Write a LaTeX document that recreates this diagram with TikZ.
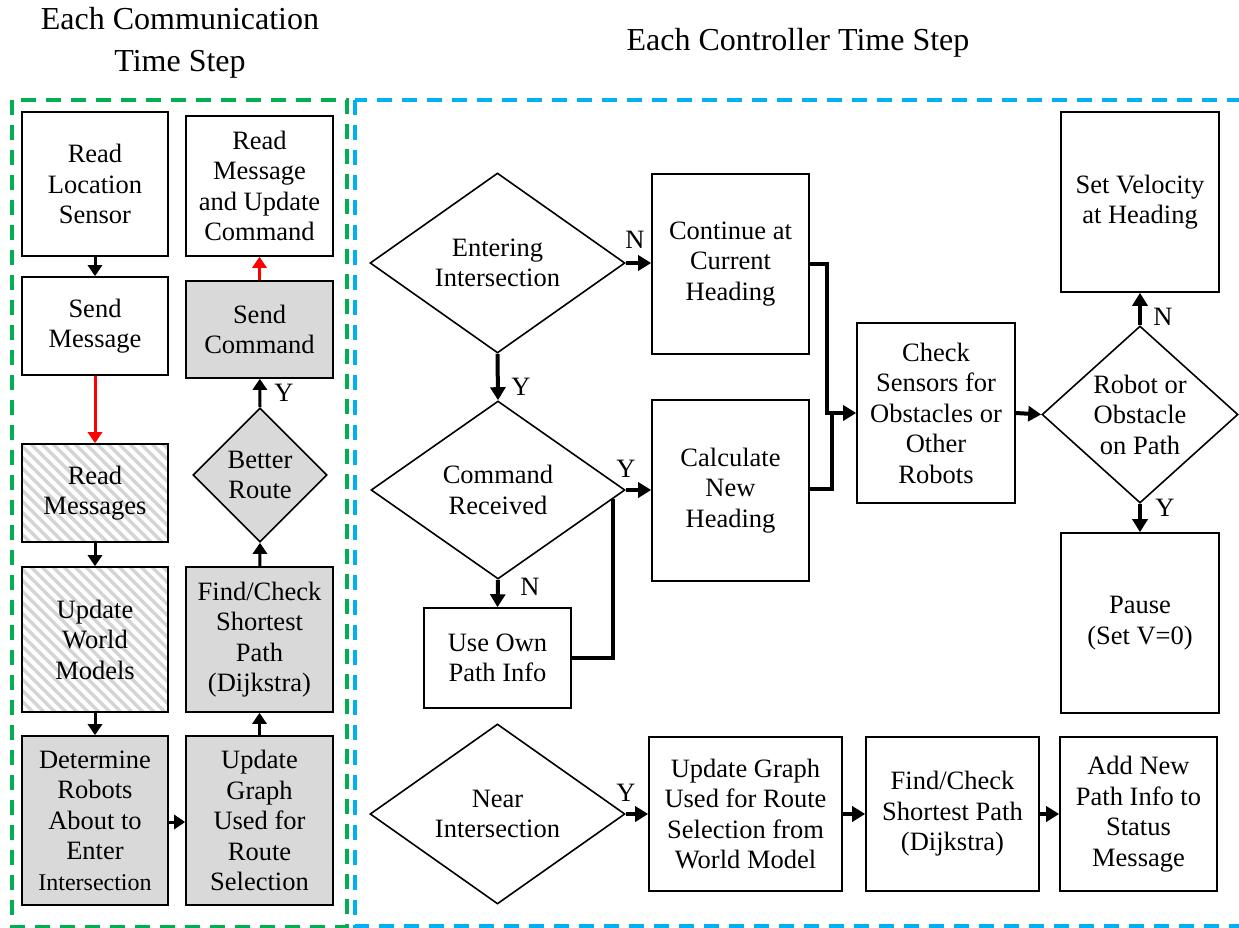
\documentclass[tikz,border=0pt]{standalone}
\usepackage{fontspec}
\setmainfont{LiberationSerif}[Extension=.ttf, UprightFont=*-Regular, BoldFont=*-Bold, ItalicFont=*-Italic, BoldItalicFont=*-BoldItalic]
\usetikzlibrary{shapes.geometric,arrows.meta,calc}

\definecolor{commgreen}{HTML}{00B050}
\definecolor{ctrlblue}{HTML}{00B0F0}
\definecolor{boxgray}{HTML}{D9D9D9}
\definecolor{hatchgray}{HTML}{D4D4D4}

\tikzset{
  txt/.style={font=\rmfamily\fontsize{26.5}{30.5}\selectfont},
  title/.style={font=\rmfamily\fontsize{32}{42}\selectfont, align=center},
  box/.style={txt, draw, line width=1.6pt, align=center, inner sep=0pt},
  shaded/.style={fill=boxgray},
  hatched/.style={path picture={
      \foreach \i in {-200,-189,...,170}
        \draw[hatchgray, line width=3.4pt]
          ($(path picture bounding box.north west)+(\i,0)$) -- ++(200,200);}},
  decision/.style={txt, draw, line width=1.6pt, shape=diamond, align=center, inner sep=0pt},
  larrow/.style={line width=3pt, -{Triangle[length=11pt,width=14pt]}},
  redarrow/.style={larrow, red},
  rarrow/.style={line width=4pt, -{Triangle[length=13pt,width=15pt]}},
  rline/.style={line width=4pt},
  yn/.style={txt, inner sep=0pt},
  frame/.style={line width=4pt, dash pattern=on 15pt off 10pt},
}

\begin{document}
\begin{tikzpicture}[x=1pt, y=-1pt]
\useasboundingbox (0,0) rectangle (1239,928);
\clip (0,0) rectangle (1239,928);

% group frames
\draw[frame, commgreen] (12,100) rectangle (347,927);
\draw[frame, ctrlblue] (355,100) rectangle (1260,926);

% headings
\node[title] (thcomm) at (180,43) {Each Communication\\Time Step};
\node[title] (thctrl) at (798,43) {Each Controller Time Step};

% ---- communication step ----
\node[box, minimum width=146pt, minimum height=144pt] (rls) at (95,184) {Read\\Location\\Sensor};
\node[box, minimum width=146pt, minimum height=98pt] (sm) at (95,326) {Send\\Message};
\node[box, hatched, minimum width=146pt, minimum height=98pt] (rm) at (95,493) {Read\\Messages};
\node[box, hatched, minimum width=146pt, minimum height=145pt] (uwm) at (95,639.5) {Update\\World\\Models};
\node[box, shaded, minimum width=146pt, minimum height=169pt] (drb) at (95,820.5)
  {Determine\\Robots\\About to\\Enter\\{\fontsize{24}{30.5}\selectfont Intersection}};

\node[box, minimum width=147pt, minimum height=140pt] (rmu) at (259.5,186) {Read\\Message\\and Update\\Command};
\node[box, shaded, minimum width=147pt, minimum height=97pt] (sc) at (259.5,329.5) {Send\\Command};
\node[decision, shaded, minimum width=134pt, minimum height=134pt] (br) at (260,475) {Better\\Route};
\node[box, shaded, minimum width=147pt, minimum height=145pt] (fc) at (259.5,639.5) {Find/Check\\Shortest\\Path\\(Dijkstra)};
\node[box, shaded, minimum width=147pt, minimum height=169pt] (ug) at (259.5,820.5) {Update\\Graph\\Used for\\Route\\Selection};

\draw[larrow] (rls) -- (sm);
\draw[redarrow] (sm) -- (rm);
\draw[larrow] (rm) -- (uwm);
\draw[larrow] (uwm) -- (drb);
\draw[larrow] (drb.east |- 0,822) -- (ug.west |- 0,822);
\draw[larrow] (ug) -- (fc);
\draw[larrow] (fc) -- (br.south);
\draw[larrow] (br.north) -- (sc);
\draw[redarrow] (sc) -- (rmu);
\node[yn] (ybr) at (284,393) {Y};

% ---- controller step ----
\node[decision, minimum width=255pt, minimum height=180pt, aspect=1.42] (ent) at (497.5,263) {Entering\\Intersection};
\node[box, minimum width=157pt, minimum height=180pt] (cont) at (730.5,264) {Continue at\\Current\\Heading};
\node[decision, minimum width=254pt, minimum height=178pt, aspect=1.42] (cmd) at (498,490) {Command\\Received};
\node[box, minimum width=157pt, minimum height=181pt] (calc) at (730.5,490.5) {Calculate\\New\\Heading};
\node[box, minimum width=147pt, minimum height=100pt] (own) at (497.5,658) {Use Own\\Path Info};
\node[box, minimum width=158pt, minimum height=180pt] (chk) at (936,413) {Check\\Sensors for\\Obstacles or\\Other\\Robots};
\node[decision, minimum width=196pt, minimum height=177pt, aspect=1.107] (rob) at (1140,414.5) {Robot or\\Obstacle\\on Path};
\node[box, minimum width=158pt, minimum height=180pt] (vel) at (1140,202) {Set Velocity\\at Heading};
\node[box, minimum width=158pt, minimum height=180pt] (pause) at (1140,623) {Pause\\(Set V=0)};

\draw[rarrow] (ent.east) -- (cont.west |- ent.east);
\node[yn] (nent) at (635,240) {N};
\draw[rarrow] (ent.south) -- (cmd.north);
\node[yn] (yent) at (521,387) {Y};
\draw[rarrow] (cmd.east) -- (calc.west |- cmd.east);
\node[yn] (ycmd) at (626,469) {Y};
\draw[rarrow] (cmd.south) -- (own.north);
\node[yn] (ncmd) at (530,587) {N};
\coordinate (cmdedge) at ($(cmd.east)!0.1!(cmd.south)$);
\draw[rline] (own.east) -| (cmdedge);

\coordinate (merge) at ($(chk.west)+(-24,0)$);
\draw[rarrow] (cont.east) -- ++(17,0) |- (chk.west);
\draw[rline] (calc.east |- 0,489) -| (merge);
\draw[rarrow] (chk.east) -- (rob.west);
\draw[rarrow] (rob.north) -- (vel.south);
\node[yn] (nrob) at (1163,317) {N};
\draw[rarrow] (rob.south) -- (pause.north);
\node[yn] (yrob) at (1165,508) {Y};

% ---- near-intersection route update ----
\node[decision, minimum width=255pt, minimum height=180pt, aspect=1.42] (near) at (497.5,814) {Near\\Intersection};
\node[box, minimum width=193pt, minimum height=154pt] (ugw) at (745.5,814) {Update Graph\\Used for Route\\Selection from\\World Model};
\node[box, minimum width=173pt, minimum height=154pt] (fcs) at (952.5,814) {Find/Check\\Shortest Path\\(Dijkstra)};
\node[box, minimum width=157pt, minimum height=154pt] (add) at (1138.5,814) {Add New\\Path Info to\\Status\\Message};

\draw[rarrow] (near.east) -- (ugw.west |- near.east);
\node[yn] (ynear) at (626,793) {Y};
\draw[rarrow] (ugw) -- (fcs);
\draw[rarrow] (fcs) -- (add);
\end{tikzpicture}
\end{document}
